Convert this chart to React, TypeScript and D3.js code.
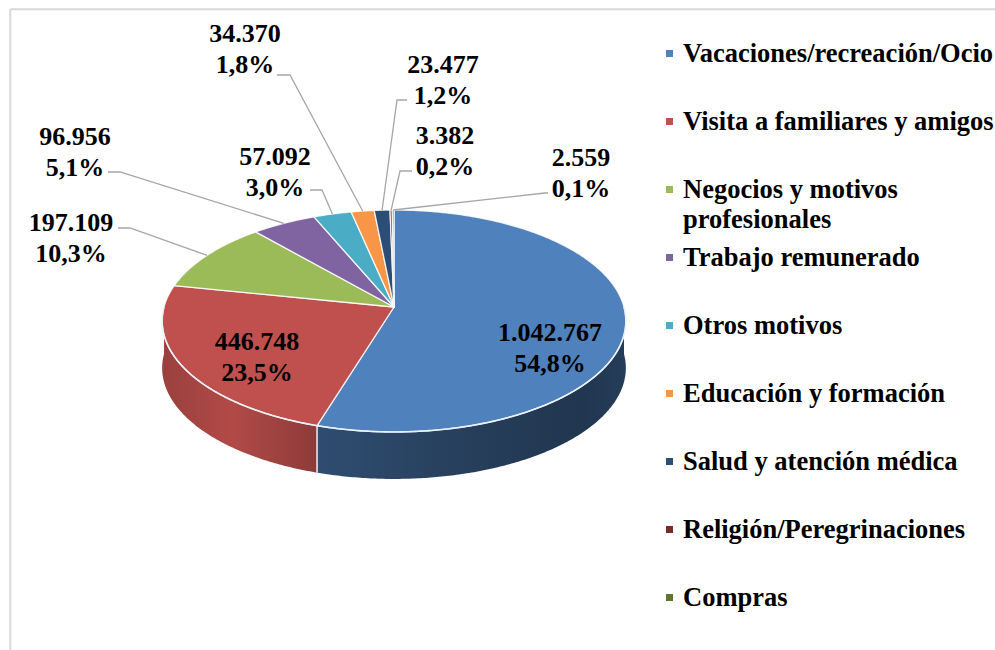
import React from 'react';
import * as d3 from 'd3';

const categories = [
  'Vacaciones/recreación/Ocio',
  'Visita a familiares y amigos',
  'Negocios y motivos profesionales',
  'Trabajo remunerado',
  'Otros motivos',
  'Educación y formación',
  'Salud y atención médica',
  'Religión/Peregrinaciones',
  'Compras',
];
const values = [1042767, 446748, 197109, 96956, 57092, 34370, 23477, 3382, 2559];
const colors = ['#4F81BD', '#C0504D', '#9BBB59', '#8064A2', '#4BACC6', '#F79646', '#2C4D75', '#772C2A', '#5F7530'];

// label layout: centre x, first line centre y, leader start and elbow
const labelPos = [
  { x: 550, y: 332 },
  { x: 257, y: 341 },
  { x: 71, y: 222, lx: 118, ly: 228, ex: 130 },
  { x: 75, y: 136, lx: 108, ly: 172, ex: 120 },
  { x: 275, y: 156, lx: 310, ly: 190, ex: 322 },
  { x: 245, y: 33, lx: 277, ly: 75, ex: 290 },
  { x: 443, y: 64, lx: 407, ly: 100, ex: 397 },
  { x: 445, y: 135, lx: 412, ly: 171, ex: 400 },
  { x: 581, y: 157, lx: 548, ly: 193, ex: 545 },
];

// side shading stops (t across visible side, left -> right, brightness factor)
const sideStops: Record<number, [number, number][]> = {
  0: [[0, 0.6], [0.4, 0.5], [0.85, 0.42], [1, 0.47]],
  1: [[0, 0.8], [0.45, 0.92], [1, 0.74]],
};

const W = 995;
const H = 650;
const CX = 394;
const CY = 307;
const RX = 230;
const RY = 109.2;
const K = 0.126;
const DEPTH = 47;
const FONT = '"Liberation Serif", "Times New Roman", serif';
const FS = 26;
const LEG_FS = 26.5;
const LINE = 31;

const loc = d3.formatLocale({ decimal: ',', thousands: '.', grouping: [3], currency: ['', ''] });
const fmtInt = loc.format(',d');
const fmtPct = loc.format(',.1f');

const proj = (theta: number, r = 1, dz = 0): [number, number] => {
  const u = r * Math.sin(theta);
  const v = r * Math.cos(theta);
  const s = 1 / (1 + K * v);
  return [CX + RX * u * s, CY - RY * v * s + dz];
};

const arcPts = (a0: number, a1: number, dz = 0) => {
  const n = Math.max(2, Math.ceil(Math.abs(a1 - a0) / 0.01));
  return d3.range(n + 1).map((i) => proj(a0 + ((a1 - a0) * i) / n, 1, dz));
};

const wrap = (s: string, max = 28) => {
  const words = s.split(' ');
  const lines: string[] = [];
  let cur = '';
  words.forEach((w) => {
    const next = cur ? cur + ' ' + w : w;
    if (next.length > max && cur) {
      lines.push(cur);
      cur = w;
    } else cur = next;
  });
  if (cur) lines.push(cur);
  return lines;
};

export default function App() {
  const total = d3.sum(values);
  const arcs = d3.pie<number>().sort(null).value((d) => d)(values);
  const closed = d3.line().curve(d3.curveLinearClosed);
  const open = d3.line();

  const sides = arcs
    .map((a, i) => {
      const s = Math.max(a.startAngle, Math.PI / 2);
      const e = Math.min(a.endAngle, (3 * Math.PI) / 2);
      if (e <= s) return null;
      const top = arcPts(s, e);
      const bot = arcPts(e, s, DEPTH);
      const xs = top.map((p) => p[0]);
      return { i, s, e, d: closed([...top, ...bot]) as string, x0: d3.min(xs)!, x1: d3.max(xs)! };
    })
    .filter(Boolean) as { i: number; s: number; e: number; d: string; x0: number; x1: number }[];

  const legendY = d3.scalePoint<number>().domain(d3.range(categories.length)).range([53, 597]);

  return (
    <svg width={W} height={H} style={{ position: 'absolute', left: 0, top: 0, background: '#fff' }}>
      <defs>
        {sides.map((sd) => {
          const stops = sideStops[sd.i] || [[0, 0.7], [1, 0.5]];
          const c = d3.interpolateRgb('#000', colors[sd.i]);
          return (
            <linearGradient key={sd.i} id={`side${sd.i}`} gradientUnits="userSpaceOnUse" x1={sd.x0} x2={sd.x1} y1={0} y2={0}>
              {stops.map(([t, f], j) => (
                <stop key={j} offset={t} stopColor={c(f)} />
              ))}
            </linearGradient>
          );
        })}
      </defs>

      <line x1={10.3} y1={9.3} x2={W} y2={9.3} stroke="#d9d9d9" strokeWidth={2} />
      <line x1={10.3} y1={9.3} x2={10.3} y2={H} stroke="#d9d9d9" strokeWidth={2} />

      {sides.map((sd) => (
        <path key={sd.i} d={sd.d} fill={`url(#side${sd.i})`} />
      ))}
      {sides.slice(1).map((sd) => {
        const p0 = proj(sd.s);
        const p1 = proj(sd.s, 1, DEPTH);
        return <line key={sd.i} x1={p0[0]} y1={p0[1]} x2={p1[0]} y2={p1[1]} stroke="#ffffff" strokeOpacity={0.85} strokeWidth={1.6} />;
      })}

      {arcs.map((a, i) => (
        <path
          key={i}
          d={closed([proj(0, 0), ...arcPts(a.startAngle, a.endAngle)]) as string}
          fill={colors[i]}
          stroke="#ffffff"
          strokeOpacity={0.85}
          strokeWidth={1.3}
          strokeLinejoin="round"
        />
      ))}
      <path d={open(arcPts(Math.PI / 2, (3 * Math.PI) / 2)) as string} fill="none" stroke="#eaf1fa" strokeWidth={1.6} />

      {arcs.map((a, i) => {
        const lp = labelPos[i];
        if (lp.lx === undefined) return null;
        const mid = (a.startAngle + a.endAngle) / 2;
        const target = proj(mid);
        return (
          <path
            key={i}
            d={open([[lp.lx, lp.ly], [lp.ex!, lp.ly], target]) as string}
            fill="none"
            stroke="#a6a6a6"
            strokeWidth={1.3}
          />
        );
      })}

      {values.map((v, i) => {
        const lp = labelPos[i];
        return (
          <text key={i} fontFamily={FONT} fontSize={FS} fontWeight="bold" fill="#000" textAnchor="middle">
            <tspan x={lp.x} y={lp.y + 9}>{fmtInt(v)}</tspan>
            <tspan x={lp.x} y={lp.y + 9 + LINE}>{fmtPct((v / total) * 100) + '%'}</tspan>
          </text>
        );
      })}

      {categories.map((c, i) => {
        const y = legendY(i)!;
        const lines = wrap(c);
        return (
          <g key={c}>
            <rect x={666} y={y - 3} width={7} height={7} fill={colors[i]} />
            <text fontFamily={FONT} fontSize={LEG_FS} fontWeight="bold" fill="#000">
              {lines.map((l, j) => (
                <tspan key={j} x={683} y={y + 9 + j * 30}>{l}</tspan>
              ))}
            </text>
          </g>
        );
      })}
    </svg>
  );
}
